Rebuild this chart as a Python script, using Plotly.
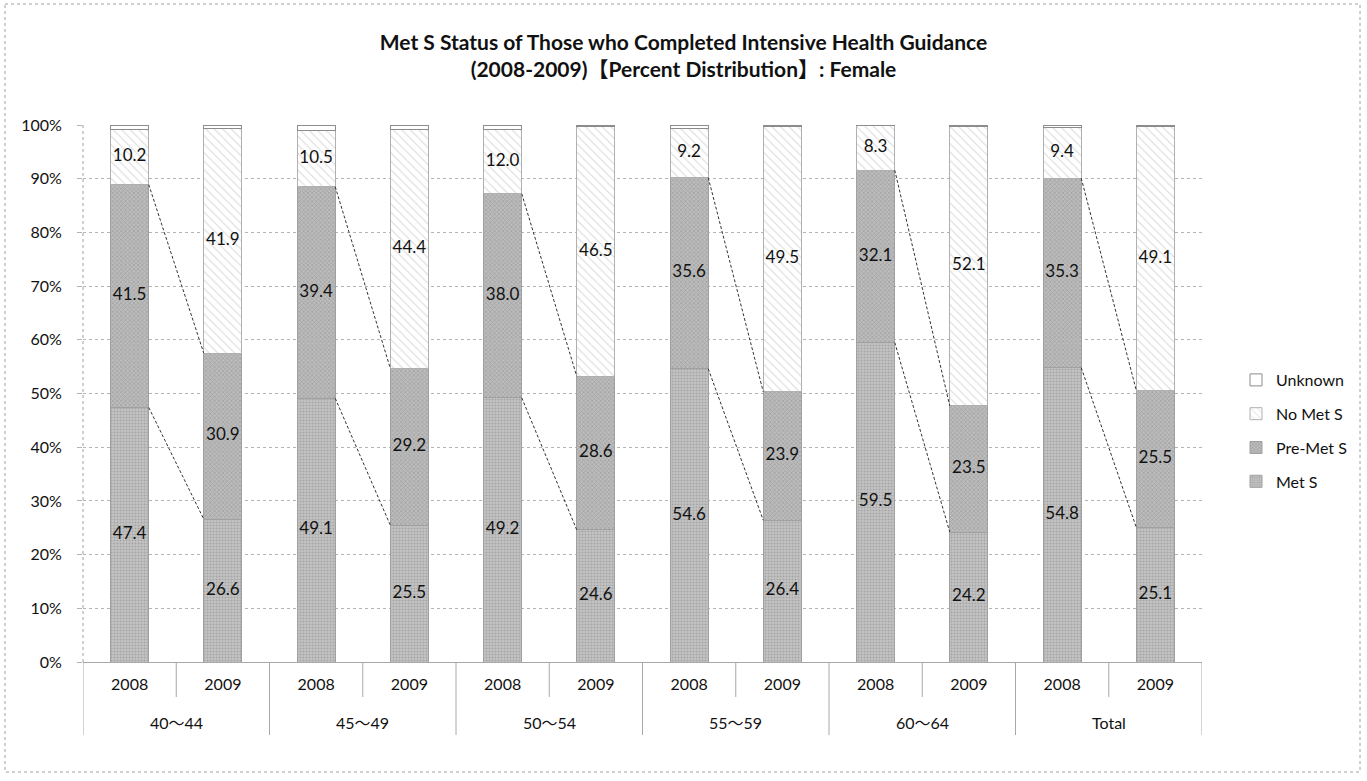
import plotly.graph_objects as go

# Age groups and survey years
groups = ["40～44", "45～49", "50～54", "55～59", "60～64", "Total"]
years = ["2008", "2009"]

# Percent distribution per bar (group-major, 2008 then 2009)
met_s = [47.4, 26.6, 49.1, 25.5, 49.2, 24.6, 54.6, 26.4, 59.5, 24.2, 54.8, 25.1]
pre_met_s = [41.5, 30.9, 39.4, 29.2, 38.0, 28.6, 35.6, 23.9, 32.1, 23.5, 35.3, 25.5]
no_met_s = [10.2, 41.9, 10.5, 44.4, 12.0, 46.5, 9.2, 49.5, 8.3, 52.1, 9.4, 49.1]
unknown = [0.9, 0.6, 1.0, 0.9, 0.8, 0.3, 0.6, 0.2, 0.1, 0.2, 0.5, 0.3]

FONT = "Lato, 'Noto Sans CJK JP', sans-serif"
BAR_W = 0.41
ML, MR, MT, MB = 83, 165, 125, 119
W, H = 1367, 781
PW, PH = W - ML - MR, H - MT - MB

idx = list(range(len(met_s)))
tick_text = years * len(groups)


def py(px_from_top):
    """Paper y for a pixel row in the figure."""
    return (H - MB - px_from_top) / PH


def pxx(px_from_left):
    return (px_from_left - ML) / PW


fig = go.Figure()

series = [
    ("Met S", met_s, dict(color="#bdbdbd", pattern=dict(shape=".", fgcolor="#858585", bgcolor="#c4c4c4", size=3, solidity=0.4)), "#a0a0a0", 4),
    ("Pre-Met S", pre_met_s, dict(color="#b0b0b0", pattern=dict(shape="x", fgcolor="#858585", bgcolor="#bcbcbc", size=3, solidity=0.4)), "#a0a0a0", 3),
    ("No Met S", no_met_s, dict(color="#ffffff", pattern=dict(shape="\\", fgcolor="#b4b4b4", bgcolor="#ffffff", size=6, solidity=0.18)), "#b0b0b0", 2),
    ("Unknown", unknown, dict(color="#ffffff"), "#8c8c8c", 1),
]

for name, vals, marker, edge, rank in series:
    fig.add_trace(go.Bar(
        x=idx, y=vals, name=name, width=BAR_W, legendgroup=name, legendrank=rank,
        marker=dict(**marker, line=dict(color=edge, width=1)),
        hoverinfo="skip",
    ))

# Value labels centred in each labelled segment
base = [0.0] * len(idx)
for name, vals, _, _, _ in series[:3]:
    mids = [b + v / 2 for b, v in zip(base, vals)]
    fig.add_trace(go.Scatter(
        x=idx, y=mids, mode="text", text=[f"{v:.1f}" for v in vals],
        textfont=dict(family=FONT, size=17, color="#111111"),
        showlegend=False, hoverinfo="skip",
    ))
    base = [b + v for b, v in zip(base, vals)]

# Dashed connectors between 2008 and 2009 segment tops
cum1 = met_s
cum2 = [a + b for a, b in zip(met_s, pre_met_s)]
cx, cy = [], []
for g in range(len(groups)):
    i = 2 * g
    for cum in (cum1, cum2):
        cx += [i + BAR_W / 2, i + 1 - BAR_W / 2, None]
        cy += [cum[i], cum[i + 1], None]
fig.add_trace(go.Scatter(
    x=cx, y=cy, mode="lines", line=dict(color="#333333", width=1, dash="3px,2px"),
    showlegend=False, hoverinfo="skip",
))

shapes = []
# dotted value-axis line
shapes.append(dict(type="line", xref="paper", yref="paper", x0=0, x1=0, y0=0, y1=1,
                   line=dict(color="#a0a0a0", width=1, dash="dot")))
# separators between years inside a group
for g in range(len(groups)):
    shapes.append(dict(type="line", xref="x", yref="paper", x0=2 * g + 0.5, x1=2 * g + 0.5,
                       y0=0, y1=py(697), line=dict(color="#a8a8a8", width=1)))
# separators between groups
for g in range(len(groups) + 1):
    shapes.append(dict(type="line", xref="x", yref="paper", x0=2 * g - 0.5, x1=2 * g - 0.5,
                       y0=0, y1=py(735), line=dict(color="#a8a8a8", width=1)))
# outer frame
shapes.append(dict(type="rect", xref="paper", yref="paper",
                   x0=pxx(5), x1=pxx(1360), y0=py(4), y1=py(772),
                   line=dict(color="#a0a0a0", width=1, dash="dot")))

annotations = [
    dict(text=gname, x=2 * g + 0.5, xref="x", y=py(722), yref="paper",
         showarrow=False, yanchor="middle", font=dict(family=FONT, size=16, color="#111111"))
    for g, gname in enumerate(groups)
]

fig.update_layout(
    width=W, height=H,
    margin=dict(l=ML, r=MR, t=MT, b=MB),
    paper_bgcolor="white", plot_bgcolor="white",
    barmode="stack",
    font=dict(family=FONT, size=16, color="#111111"),
    title=dict(
        text="<b>Met S Status of Those who Completed Intensive Health Guidance<br>(2008-2009)【Percent Distribution】: Female</b>",
        x=0.5, xref="container", xanchor="center",
        y=1 - 50 / H, yref="container", yanchor="middle",
        font=dict(family=FONT, size=21, color="#111111"),
    ),
    xaxis=dict(
        range=[-0.5, 11.5], tickmode="array", tickvals=idx, ticktext=tick_text,
        showgrid=False, zeroline=False, showline=True, linecolor="#a8a8a8",
        ticks="", ticklabelstandoff=8, tickfont=dict(family=FONT, size=16),
    ),
    yaxis=dict(
        range=[0, 100], dtick=10, ticksuffix="%",
        showgrid=True, gridcolor="#b4b4b4", griddash="dot", gridwidth=1,
        zeroline=False, showline=False,
        ticks="outside", ticklen=5, tickcolor="#b4b4b4",
        ticklabelstandoff=12, tickfont=dict(family=FONT, size=16),
    ),
    legend=dict(
        x=pxx(1236), xanchor="left", y=py(431), yanchor="middle",
        traceorder="grouped", tracegroupgap=10,
        font=dict(family=FONT, size=16), itemwidth=30,
        bgcolor="rgba(0,0,0,0)",
    ),
    shapes=shapes,
    annotations=annotations,
    showlegend=True,
)

fig.write_html("out.html")
